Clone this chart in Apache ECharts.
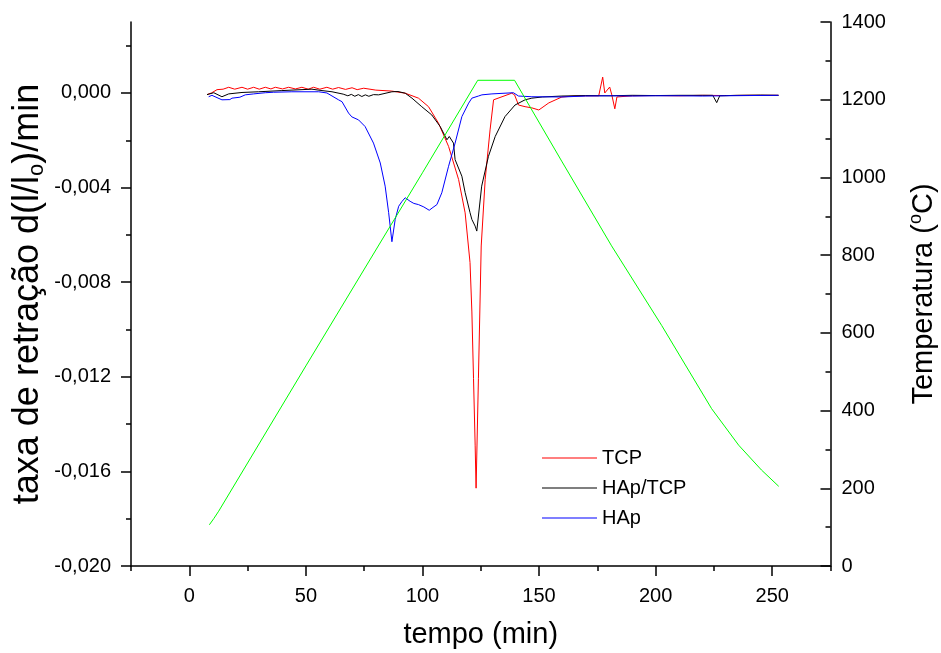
<!DOCTYPE html>
<html><head><meta charset="utf-8">
<script src="https://cdn.jsdelivr.net/npm/echarts@6/dist/echarts.min.js"></script>
<style>html,body{margin:0;padding:0;background:#fff}#c{width:941px;height:653px}</style>
</head><body><div id="c"></div>
<script>
// time (min) and shrinkage rate (in units of 1e-3 /min)
const tcpTime = [7.6, 9.5, 11.9, 14.5, 16.9, 19.5, 22.6, 25, 27.6, 30, 32.6, 35, 36.9, 40, 42.6, 45.5, 48.3, 51, 53.3, 56, 59, 61.5, 64, 67, 69.8, 72, 74.8, 80, 86.8, 92.6, 98.3, 102.6, 106.9, 111.2, 115.5, 118.3, 120.4, 121.2, 121.9, 122.6, 123.0, 124.0, 125.2, 126.9, 129.0, 130.5, 138.3, 139.5, 141.2, 144.0, 146.9, 149.9, 154.2, 159.8, 165, 170, 175.6, 177.3, 178.2, 179, 180.3, 181.2, 182.5, 183.4, 190, 200, 210, 220, 230, 240, 252.7];
const tcpRate = [-0.07, 0.0, 0.14, 0.16, 0.24, 0.16, 0.24, 0.16, 0.24, 0.16, 0.24, 0.17, 0.24, 0.17, 0.24, 0.17, 0.24, 0.16, 0.24, 0.16, 0.24, 0.16, 0.23, 0.15, 0.22, 0.14, 0.2, 0.12, 0.08, -0.01, -0.22, -0.58, -1.28, -2.26, -3.66, -5.07, -7.17, -9.26, -12.08, -14.89, -16.71, -12.08, -6.47, -3.66, -1.56, -0.29, -0.01, -0.08, -0.51, -0.58, -0.63, -0.72, -0.42, -0.17, -0.13, -0.12, -0.12, 0.67, 0.0, 0.04, 0.25, -0.08, -0.67, -0.17, -0.12, -0.11, -0.12, -0.1, -0.11, -0.1, -0.1];

const mixTime = [7.6, 10.5, 14.0, 16.9, 22.6, 29.7, 39.7, 52.6, 56.9, 61.2, 66, 68, 69.5, 71, 72.5, 74, 75.5, 77, 79, 81.2, 86.9, 89.5, 92.6, 95.5, 99.7, 104.0, 107.6, 110.5, 111.5, 113.3, 114.0, 116.9, 118.3, 120.4, 121.2, 122.6, 123.3, 125.4, 128.3, 131.2, 135.4, 139.7, 144.0, 146.9, 151.4, 159.8, 170, 180, 190, 200, 210, 220, 224.5, 226.2, 227.5, 235, 245, 252.7];
const mixRate = [-0.07, 0.01, -0.16, -0.04, 0.02, 0.05, 0.10, 0.16, 0.1, 0.05, -0.05, -0.12, -0.06, -0.14, -0.07, -0.15, -0.08, -0.14, -0.07, -0.08, 0.05, 0.06, -0.01, -0.22, -0.58, -0.93, -1.42, -1.98, -1.84, -2.12, -2.82, -3.52, -4.21, -5.06, -5.35, -5.63, -5.84, -3.94, -2.68, -1.84, -1.0, -0.51, -0.29, -0.22, -0.17, -0.13, -0.11, -0.12, -0.1, -0.11, -0.1, -0.1, -0.1, -0.41, -0.12, -0.1, -0.09, -0.1];

const hapTime = [8.3, 9.7, 14.0, 14.7, 17.4, 18.3, 21.7, 24.0, 27.6, 32.6, 36.2, 44.0, 55.5, 59.0, 59.8, 64.0, 65.5, 68.3, 69.7, 72.6, 75.4, 79.0, 81.9, 84.0, 85.5, 86.9, 88.3, 89.8, 91.2, 92.6, 94.7, 96.3, 98.3, 100.6, 102.9, 104.5, 106.2, 108.3, 111.2, 114.0, 116.9, 119.8, 121.2, 124.0, 125.5, 129.8, 139.0, 141.2, 146.9, 159.8, 170, 180, 190, 200, 210, 220, 230, 240, 252.7];
const hapRate = [-0.16, -0.1, -0.29, -0.32, -0.28, -0.22, -0.18, -0.08, -0.04, 0.01, 0.03, 0.05, 0.05, 0.0, -0.08, -0.29, -0.37, -0.85, -1.01, -1.14, -1.42, -2.12, -2.96, -3.94, -5.06, -6.29, -5.35, -4.79, -4.59, -4.43, -4.58, -4.67, -4.72, -4.82, -4.96, -4.84, -4.72, -4.22, -3.10, -2.12, -1.0, -0.43, -0.22, -0.13, -0.08, -0.04, 0.01, -0.13, -0.16, -0.17, -0.13, -0.12, -0.13, -0.12, -0.12, -0.13, -0.12, -0.11, -0.1];

// temperature program
const tempTime = [8.6, 10.5, 12.6, 50, 100, 123.7, 139.5, 159.7, 181.1, 202.6, 224, 235.6, 245.4, 252.8];
const tempC = [106, 122, 141, 515, 1012, 1250, 1250, 1042, 824, 619, 405, 311, 247, 205];

// ticks
const xLabels = [0, 50, 100, 150, 200, 250];
const xMinor = [-25, 25, 75, 125, 175, 225, 275];
const yLabels = [-0.020, -0.016, -0.012, -0.008, -0.004, 0.000];
const yMinor = [-0.018, -0.014, -0.010, -0.006, -0.002, 0.002];

const FONT = 'Liberation Sans, Arial, sans-serif';
const pairs = (t, v, s) => t.map((x, i) => [x, v[i] * s]);

const chart = echarts.init(document.getElementById('c'), null, {renderer: 'canvas'});
const axisLine = {show: true, onZero: false, lineStyle: {color: '#000', width: 1.5}};
const noLine = {show: false, onZero: false};
const labelStyle = {color: '#000', fontSize: 20, fontFamily: FONT};
const tickStyle = {color: '#000', width: 1.5};

chart.setOption({
  animation: false,
  backgroundColor: '#fff',
  grid: {left: 131, right: 110.5, top: 22, bottom: 87, containLabel: false, outerBoundsMode: 'none'},
  legend: {
    data: ['TCP', 'HAp/TCP', 'HAp'],
    orient: 'vertical', left: 542, top: 448, padding: 0,
    icon: 'rect', itemWidth: 55, itemHeight: 1.2, itemGap: 10,
    textStyle: {color: '#000', fontSize: 20, fontFamily: FONT}
  },
  xAxis: [{
    type: 'value', min: -25, max: 275, position: 'bottom',
    axisLine: axisLine,
    axisTick: {show: true, customValues: xLabels, length: 10, lineStyle: tickStyle},
    axisLabel: Object.assign({customValues: xLabels, margin: 20}, labelStyle),
    splitLine: {show: false},
    name: 'tempo (min)', nameLocation: 'middle', nameGap: 54, nameMoveOverlap: false,
    nameTextStyle: {color: '#000', fontSize: 29, fontFamily: FONT}
  }, {
    type: 'value', min: -25, max: 275, position: 'bottom',
    axisLine: noLine,
    axisTick: {show: true, customValues: xMinor, length: 5, lineStyle: tickStyle},
    axisLabel: {show: false}, splitLine: {show: false}
  }],
  yAxis: [{
    type: 'value', min: -0.020, max: 0.003, position: 'left',
    axisLine: axisLine,
    axisTick: {show: true, customValues: yLabels, length: 10, lineStyle: tickStyle},
    axisLabel: Object.assign({customValues: yLabels, margin: 20,
      formatter: v => v.toFixed(3).replace('.', ',')}, labelStyle),
    splitLine: {show: false},
    name: 'taxa de retração d(l/l{sub|o})/min', nameLocation: 'middle', nameGap: 83, nameRotate: 90,
    nameMoveOverlap: false,
    nameTextStyle: {color: '#000', fontSize: 36, fontFamily: FONT,
      rich: {sub: {fontSize: 22, fontFamily: FONT, color: '#000', verticalAlign: 'bottom', padding: [18, 0, 0, 0]}}}
  }, {
    type: 'value', min: 0, max: 1400, interval: 200, position: 'right',
    axisLine: axisLine,
    axisTick: {show: true, inside: true, length: 10, lineStyle: tickStyle},
    minorTick: {show: true, splitNumber: 2, length: 5, lineStyle: tickStyle},
    axisLabel: Object.assign({margin: 11, formatter: v => String(v)}, labelStyle),
    splitLine: {show: false}, minorSplitLine: {show: false},
    name: 'Temperatura ({sup|o}C)', nameLocation: 'middle', nameGap: 77, nameRotate: 90,
    nameTextStyle: {color: '#000', fontSize: 29, fontFamily: FONT,
      rich: {sup: {fontSize: 18, fontFamily: FONT, color: '#000', verticalAlign: 'top', padding: [0, 0, 14, 0]}}}
  }, {
    type: 'value', min: -0.020, max: 0.003, position: 'left',
    axisLine: noLine,
    axisTick: {show: true, customValues: yMinor, length: 5, lineStyle: tickStyle},
    axisLabel: {show: false}, splitLine: {show: false}
  }],
  series: [
    {name: 'TCP', type: 'line', xAxisIndex: 0, yAxisIndex: 0, symbol: 'none',
     lineStyle: {color: '#ff0000', width: 1}, itemStyle: {color: '#ff0000'},
     data: pairs(tcpTime, tcpRate, 1e-3)},
    {name: 'HAp/TCP', type: 'line', xAxisIndex: 0, yAxisIndex: 0, symbol: 'none',
     lineStyle: {color: '#000000', width: 1}, itemStyle: {color: '#000000'},
     data: pairs(mixTime, mixRate, 1e-3)},
    {name: 'HAp', type: 'line', xAxisIndex: 0, yAxisIndex: 0, symbol: 'none',
     lineStyle: {color: '#0000ff', width: 1}, itemStyle: {color: '#0000ff'},
     data: pairs(hapTime, hapRate, 1e-3)},
    {name: 'Temperatura', type: 'line', xAxisIndex: 0, yAxisIndex: 1, symbol: 'none',
     lineStyle: {color: '#00ff00', width: 1}, itemStyle: {color: '#00ff00'},
     data: pairs(tempTime, tempC, 1)}
  ]
});
</script>
</body></html>
